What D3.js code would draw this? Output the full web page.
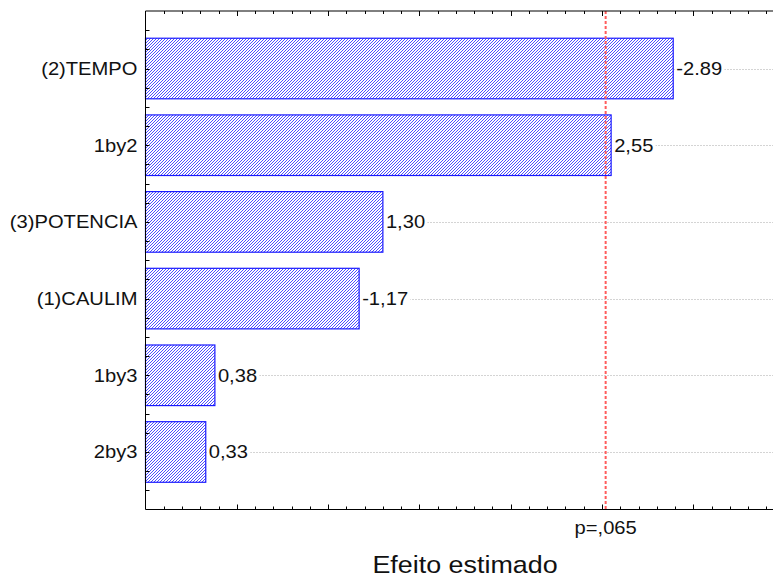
<!DOCTYPE html>
<html>
<head>
<meta charset="utf-8">
<script src="https://cdn.jsdelivr.net/npm/d3@7/dist/d3.min.js"></script>
<style>
  html, body { margin: 0; padding: 0; background: #fff; }
  svg { display: block; }
  text { font-family: "Liberation Sans", Arial, sans-serif; fill: #111; }
</style>
</head>
<body>
<svg id="chart" width="773" height="579"></svg>
<script>
// Pareto chart of standardized effects
const categories = ["(2)TEMPO", "1by2", "(3)POTENCIA", "(1)CAULIM", "1by3", "2by3"];
const effects = [-2.89, 2.55, 1.30, -1.17, 0.38, 0.33];
const effectLabels = ["-2.89", "2,55", "1,30", "-1,17", "0,38", "0,33"];
const pLimit = 2.52;
const pLabel = "p=,065";
const xTitle = "Efeito estimado";

const W = 773, H = 579;
const plot = { left: 145.5, top: 11, bottom: 509.5 };
const SX = 1.12; // slightly widened lettering

const svg = d3.select("#chart");

// Hatch fill for the bars
const defs = svg.append("defs");
const pat = defs.append("pattern")
  .attr("id", "hatch")
  .attr("patternUnits", "userSpaceOnUse")
  .attr("width", 3).attr("height", 3);
pat.append("rect").attr("width", 3).attr("height", 3).attr("fill", "#fff");
pat.append("path")
  .attr("d", "M-1,1 L1,-1 M0,3 L3,0 M2,4 L4,2")
  .attr("stroke", "#4646ff").attr("stroke-width", 0.95);

// Scales: x is the absolute effect, y is a continuous band index
const x = d3.scaleLinear().domain([0, 3.5]).range([plot.left, plot.left + 3.5 * 182.6]);
const y = d3.scaleLinear().domain([0, 6.5]).range([plot.top, plot.bottom]);
const center = i => y(0.75 + i);
const half = 0.395;

const place = (px, py) => `translate(${px},${py}) scale(${SX},1)`;

// Dotted reference lines through each bar centre
svg.append("g").selectAll("line").data(categories).join("line")
  .attr("x1", plot.left).attr("x2", W)
  .attr("y1", (d, i) => Math.round(center(i)) + 0.5)
  .attr("y2", (d, i) => Math.round(center(i)) + 0.5)
  .attr("stroke", "#a8a8a8").attr("stroke-width", 1)
  .attr("stroke-dasharray", "1,2");

// Bars
svg.append("g").selectAll("rect").data(effects).join("rect")
  .attr("x", x(0))
  .attr("y", (d, i) => y(0.75 + i - half))
  .attr("width", d => x(Math.abs(d)) - x(0))
  .attr("height", y(2 * half) - y(0))
  .attr("fill", "url(#hatch)")
  .attr("stroke", "#1a1aff").attr("stroke-width", 1.2);

// Value labels at the bar ends, on a white backing
const vl = svg.append("g").selectAll("g").data(effects).join("g")
  .attr("transform", (d, i) => place(x(Math.abs(d)) + 3, center(i)));
vl.append("text")
  .attr("dy", "0.35em")
  .attr("font-size", 18)
  .text((d, i) => effectLabels[i]);
vl.each(function () {
  const g = d3.select(this);
  const b = g.select("text").node().getBBox();
  g.insert("rect", "text")
    .attr("x", b.x - 1).attr("y", b.y)
    .attr("width", b.width + 3).attr("height", b.height)
    .attr("fill", "#fff");
});

// Category labels
svg.append("g").selectAll("text").data(categories).join("text")
  .attr("transform", (d, i) => place(plot.left - 8, center(i)))
  .attr("dy", "0.35em")
  .attr("text-anchor", "end")
  .attr("font-size", 18)
  .text(d => d);

// Significance limit
svg.append("line")
  .attr("x1", x(pLimit)).attr("x2", x(pLimit))
  .attr("y1", plot.top).attr("y2", plot.bottom)
  .attr("stroke", "#ff5c5c").attr("stroke-width", 2)
  .attr("stroke-dasharray", "3,2");

// Frame and tick marks
const frame = svg.append("g").attr("stroke", "#000").attr("stroke-width", 1);
frame.append("line").attr("x1", plot.left).attr("x2", plot.left).attr("y1", plot.top).attr("y2", plot.bottom);
frame.append("line").attr("x1", plot.left).attr("x2", W).attr("y1", plot.top).attr("y2", plot.top);
frame.append("line").attr("x1", plot.left).attr("x2", W).attr("y1", plot.bottom).attr("y2", plot.bottom);

const xt = d3.range(1, 36).map(k => k / 10);
frame.append("g").selectAll("line").data(xt).join("line")
  .attr("x1", d => Math.round(x(d)) + 0.5).attr("x2", d => Math.round(x(d)) + 0.5)
  .attr("y1", plot.top).attr("y2", (d, i) => plot.top + ((i + 1) % 5 === 0 ? 5 : 3));
frame.append("g").selectAll("line").data(xt).join("line")
  .attr("x1", d => Math.round(x(d)) + 0.5).attr("x2", d => Math.round(x(d)) + 0.5)
  .attr("y1", plot.bottom).attr("y2", (d, i) => plot.bottom - ((i + 1) % 5 === 0 ? 5 : 3));

const yt = d3.range(1, 26).map(k => k / 4);
frame.append("g").selectAll("line").data(yt).join("line")
  .attr("x1", plot.left).attr("x2", plot.left + 4)
  .attr("y1", d => Math.round(y(d)) + 0.5).attr("y2", d => Math.round(y(d)) + 0.5);

// Limit label and axis title
svg.append("text")
  .attr("transform", place(x(pLimit), 534))
  .attr("text-anchor", "middle")
  .attr("font-size", 18)
  .text(pLabel);

svg.append("text")
  .attr("transform", place(465, 573))
  .attr("text-anchor", "middle")
  .attr("font-size", 24)
  .text(xTitle);
</script>
</body>
</html>
